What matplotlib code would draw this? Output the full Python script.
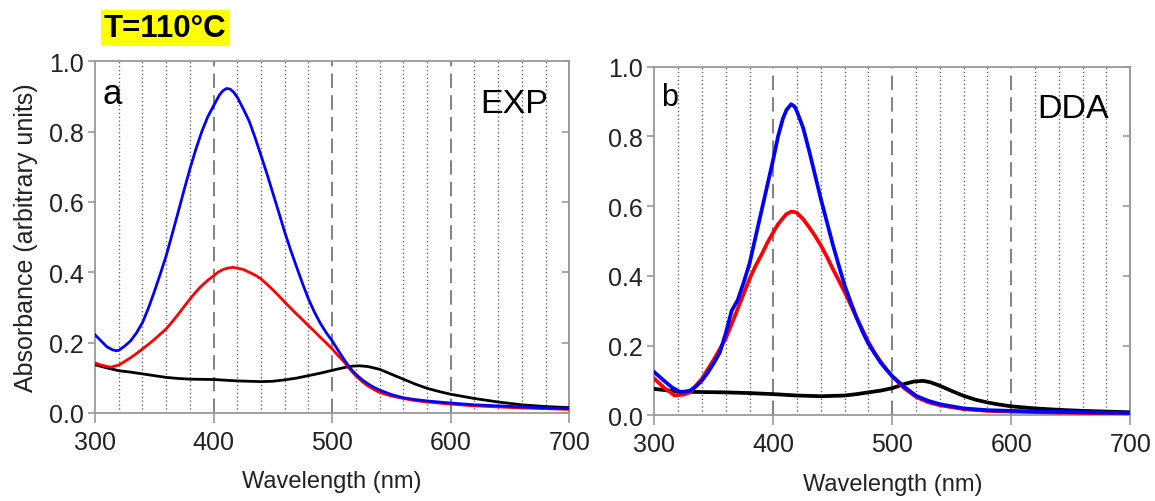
import numpy as np
import matplotlib
matplotlib.use("Agg")
import matplotlib.pyplot as plt

plt.rcParams["font.family"] = ["Liberation Sans", "DejaVu Sans"]

# panel a (EXP)
exp_blue_wl = [300, 305, 310, 315, 318, 320, 325, 330, 335, 340, 345, 350, 355, 360, 365, 370, 375, 380, 385, 390, 395,
               400, 405, 408, 411, 414, 417, 420, 425, 430, 435, 440, 445, 450, 455, 460, 465, 470, 475, 480, 485, 490,
               495, 500, 505, 510, 515, 520, 525, 530, 535, 540, 550, 560, 570, 580, 590, 600, 620, 640, 660, 680, 700]
exp_blue = [0.222, 0.205, 0.188, 0.179, 0.177, 0.178, 0.19, 0.205, 0.228, 0.257, 0.298, 0.345, 0.395, 0.447, 0.508,
            0.57, 0.633, 0.694, 0.75, 0.80, 0.842, 0.874, 0.905, 0.917, 0.923, 0.921, 0.912, 0.898, 0.865, 0.83, 0.783,
            0.732, 0.68, 0.625, 0.57, 0.514, 0.463, 0.415, 0.368, 0.324, 0.287, 0.255, 0.228, 0.205, 0.178, 0.152,
            0.128, 0.11, 0.095, 0.083, 0.073, 0.065, 0.052, 0.043, 0.038, 0.034, 0.031, 0.028, 0.023, 0.02, 0.017,
            0.014, 0.012]

exp_red_wl = [300, 305, 313, 320, 330, 335, 340, 345, 350, 355, 360, 365, 370, 375, 380, 385, 390, 395, 400, 404, 408,
              412, 416, 420, 425, 432, 436, 440, 445, 450, 455, 460, 465, 470, 475, 480, 485, 490, 495, 500, 505, 510,
              515, 520, 525, 530, 535, 540, 550, 560, 570, 580, 590, 600, 620, 640, 660, 680, 700]
exp_red = [0.142, 0.136, 0.13, 0.136, 0.157, 0.169, 0.182, 0.195, 0.209, 0.224, 0.239, 0.259, 0.28, 0.302, 0.324, 0.344,
           0.362, 0.377, 0.39, 0.401, 0.408, 0.412, 0.414, 0.412, 0.408, 0.397, 0.39, 0.381, 0.366, 0.35, 0.333, 0.315,
           0.298, 0.281, 0.265, 0.248, 0.232, 0.215, 0.199, 0.182, 0.163, 0.145, 0.124, 0.105, 0.09, 0.077, 0.067,
           0.058, 0.048, 0.041, 0.035, 0.031, 0.028, 0.025, 0.02, 0.017, 0.014, 0.012, 0.01]

exp_black_wl = [300, 310, 320, 330, 340, 350, 360, 370, 380, 400, 420, 440, 450, 460, 470, 480, 490, 500, 510, 517, 523,
                530, 540, 550, 560, 570, 580, 590, 600, 610, 620, 640, 660, 680, 700]
exp_black = [0.137, 0.128, 0.12, 0.116, 0.111, 0.106, 0.101, 0.098, 0.096, 0.095, 0.091, 0.089, 0.09, 0.094, 0.099,
             0.106, 0.113, 0.121, 0.129, 0.133, 0.134, 0.132, 0.124, 0.11, 0.096, 0.082, 0.07, 0.061, 0.053, 0.047,
             0.041, 0.031, 0.023, 0.018, 0.015]

# panel b (DDA)
dda_blue_wl = [300, 308, 315, 322, 330, 335, 340, 345, 350, 355, 360, 365, 370, 375, 380, 385, 390, 395, 400, 404, 408,
               411, 415, 418, 420, 425, 430, 435, 440, 445, 450, 455, 460, 465, 470, 475, 480, 490, 500, 510, 520, 530,
               540, 560, 580, 600, 630, 700]
dda_blue = [0.124, 0.1, 0.08, 0.066, 0.071, 0.083, 0.10, 0.123, 0.15, 0.18, 0.235, 0.30, 0.33, 0.38, 0.435, 0.51, 0.585,
            0.66, 0.735, 0.80, 0.85, 0.875, 0.892, 0.885, 0.87, 0.825, 0.76, 0.69, 0.62, 0.555, 0.49, 0.43, 0.372,
            0.325, 0.28, 0.24, 0.205, 0.152, 0.112, 0.082, 0.056, 0.042, 0.032, 0.02, 0.015, 0.013, 0.0105, 0.007]

dda_red_wl = [300, 308, 317, 325, 330, 340, 350, 360, 369, 380, 385, 390, 395, 400, 404, 408, 411, 415, 418, 420, 425,
              430, 435, 440, 445, 450, 455, 460, 465, 470, 475, 480, 485, 490, 495, 500, 510, 520, 530, 540, 560, 580,
              600, 640, 700]
dda_red = [0.105, 0.08, 0.057, 0.06, 0.066, 0.105, 0.16, 0.22, 0.296, 0.391, 0.428, 0.46, 0.495, 0.525, 0.548, 0.565,
           0.577, 0.584, 0.583, 0.58, 0.563, 0.54, 0.515, 0.487, 0.455, 0.42, 0.387, 0.353, 0.317, 0.28, 0.245, 0.21,
           0.18, 0.155, 0.132, 0.112, 0.078, 0.053, 0.038, 0.029, 0.018, 0.013, 0.011, 0.008, 0.005]

dda_black_wl = [300, 320, 340, 360, 380, 400, 420, 440, 460, 470, 480, 490, 500, 510, 518, 526, 532, 540, 550, 560, 570,
                580, 590, 600, 620, 640, 660, 680, 700]
dda_black = [0.076, 0.068, 0.067, 0.066, 0.064, 0.061, 0.057, 0.055, 0.057, 0.061, 0.066, 0.071, 0.078, 0.09, 0.097,
             0.099, 0.095, 0.085, 0.07, 0.056, 0.045, 0.037, 0.031, 0.026, 0.02, 0.016, 0.013, 0.011, 0.009]

x_ticks = [300, 400, 500, 600, 700]
y_ticks = [0.0, 0.2, 0.4, 0.6, 0.8, 1.0]
dotted_lines = [w for w in range(320, 700, 20) if w % 100 != 0]
dashed_lines = [400, 500, 600]

spine_col = "#9a9a9a"


def setup(ax, letter, name, letter_size):
    ax.set_xlim(300, 700)
    ax.set_ylim(0, 1)
    for w in dotted_lines:
        ax.axvline(w, color="#6a6a6a", lw=1.0, ls=(0, (1, 1.8)), zorder=1)
    for w in dashed_lines:
        ax.axvline(w, color="#777777", lw=1.3, ls=(0, (8, 4)), zorder=1)
    ax.set_xticks(x_ticks)
    ax.set_yticks(y_ticks)
    ax.set_yticklabels(["%.1f" % v for v in y_ticks])
    ax.tick_params(axis="both", direction="out", color=spine_col, labelsize=18, labelcolor="#222222", width=1.2)
    ax.tick_params(axis="x", length=7, pad=5)
    ax.tick_params(axis="y", length=5, pad=3)
    for s in ax.spines.values():
        s.set_color(spine_col)
        s.set_linewidth(1.3)
    sec = ax.secondary_yaxis("right")
    sec.set_yticks(y_ticks)
    sec.tick_params(direction="in", length=5, color=spine_col, width=1.2, labelright=False)
    sec.spines["right"].set_color(spine_col)
    sec.spines["right"].set_linewidth(1.3)
    ax.set_xlabel("Wavelength (nm)", fontsize=17, color="#222222", labelpad=12)
    ax.text(0.015, 0.955, letter, transform=ax.transAxes, fontsize=letter_size, va="top", ha="left")
    ax.text(0.955, 0.925, name, transform=ax.transAxes, fontsize=24.5, va="top", ha="right")


fig = plt.figure(figsize=(11.55, 5.02), dpi=100)
ax1 = fig.add_axes([0.0823, 0.1755, 0.4106, 0.7002])
ax2 = fig.add_axes([0.5665, 0.1705, 0.4121, 0.695])

setup(ax1, "a", "EXP", 25)
setup(ax2, "b", "DDA", 22)

ax1.plot(exp_black_wl, exp_black, color="black", lw=2.0, zorder=3)
ax1.plot(exp_red_wl, exp_red, color="#ff0000", lw=2.0, zorder=3)
ax1.plot(exp_blue_wl, exp_blue, color="#0000ff", lw=2.0, zorder=4)

ax2.plot(dda_black_wl, dda_black, color="black", lw=2.7, zorder=3)
ax2.plot(dda_red_wl, dda_red, color="#ff0000", lw=2.7, zorder=3)
ax2.plot(dda_blue_wl, dda_blue, color="#0000ff", lw=2.7, zorder=4)

ax1.set_ylabel("Absorbance (arbitrary units)", fontsize=18, color="#222222", labelpad=8)

fig.text(104 / 1155, 1 - 29 / 502, "T=110°C", fontsize=22.5, fontweight="bold", va="center", ha="left",
         bbox=dict(boxstyle="square,pad=0.1", facecolor="#ffff00", edgecolor="none"))

fig.savefig("out.png", dpi=100)
